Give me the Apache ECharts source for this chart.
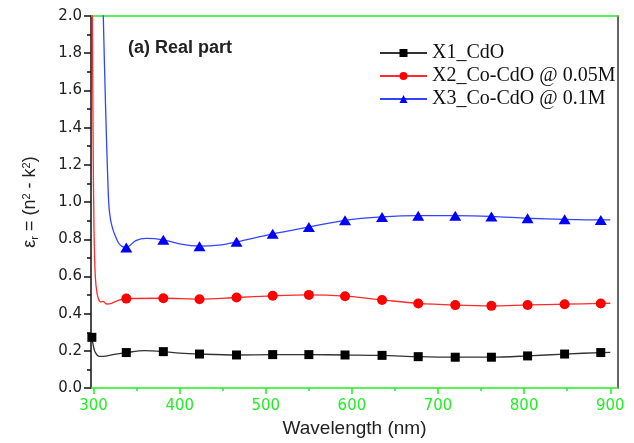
<!DOCTYPE html>
<html>
<head>
<meta charset="utf-8">
<script src="https://cdn.jsdelivr.net/npm/echarts@6/dist/echarts.min.js"></script>
<style>
  html, body { margin: 0; padding: 0; background: #fff; }
  #chart { width: 634px; height: 443px; }
</style>
</head>
<body>
<div id="chart"></div>
<script>
// wavelength (nm) and eps_r values
var x1Wave = [298, 301, 304, 307, 314.5, 326, 338, 359, 381, 400, 423, 466, 508, 550, 592, 635, 677, 720, 762, 804, 847, 889, 900];
var x1Vals = [0.273, 0.203, 0.178, 0.170, 0.172, 0.183, 0.191, 0.201, 0.196, 0.188, 0.183, 0.178, 0.180, 0.180, 0.178, 0.176, 0.169, 0.166, 0.166, 0.173, 0.183, 0.191, 0.192];

var x2Wave = [298, 299.5, 300.5, 302, 304, 306.5, 309, 311, 315, 321, 328, 338, 381, 423, 466, 508, 550, 592, 635, 677, 720, 762, 804, 847, 889, 900];
var x2Vals = [2.5, 1.3, 0.85, 0.6, 0.51, 0.47, 0.463, 0.466, 0.452, 0.456, 0.47, 0.481, 0.483, 0.478, 0.487, 0.496, 0.501, 0.494, 0.474, 0.455, 0.446, 0.442, 0.447, 0.451, 0.455, 0.456];

var x3Wave = [311, 314, 317.5, 319.5, 322, 325, 329, 333, 338, 349, 361, 381, 400, 423, 445, 466, 508, 550, 592, 635, 677, 720, 762, 804, 847, 889, 900];
var x3Vals = [2.05, 1.5, 1.0, 0.91, 0.86, 0.82, 0.78, 0.762, 0.756, 0.793, 0.805, 0.797, 0.775, 0.763, 0.768, 0.786, 0.829, 0.866, 0.902, 0.920, 0.927, 0.927, 0.923, 0.913, 0.907, 0.904, 0.904];

var markerWave = [338, 381, 423, 466, 508, 550, 592, 635, 677, 720, 762, 804, 847, 889];
var x1ExtraMarker = [298];

var seriesNames = ['X1_CdO', 'X2_Co-CdO @ 0.05M', 'X3_Co-CdO @ 0.1M'];
var xMajorTicks = [300, 400, 500, 600, 700, 800, 900];
var xMinorTicks = [350, 450, 550, 650, 750, 850];

function buildData(waves, vals, marks) {
  return waves.map(function (w, i) {
    var item = { value: [w, vals[i]] };
    if (marks.indexOf(w) < 0) item.symbol = 'none';
    return item;
  });
}

var chart = echarts.init(document.getElementById('chart'));
var green = '#22ee22';

var option = {
  animation: false,
  backgroundColor: '#fff',
  title: {
    text: '(a) Real part',
    left: 128,
    top: 39,
    padding: 0,
    textStyle: { fontFamily: 'Liberation Sans', fontSize: 18, fontWeight: 'bold', color: '#222' }
  },
  legend: {
    orient: 'vertical',
    left: 379,
    top: 43,
    itemWidth: 47,
    itemHeight: 10,
    itemGap: 3,
    padding: 0,
    textStyle: { fontFamily: 'Liberation Serif', fontSize: 20, color: '#111', lineHeight: 18 },
    data: seriesNames
  },
  grid: { left: 91, right: 16, top: 16, bottom: 52 },
  xAxis: [
    {
      type: 'value', min: 297, max: 909, position: 'bottom',
      name: 'Wavelength (nm)', nameLocation: 'middle', nameGap: 26,
      nameTextStyle: { fontFamily: 'Liberation Sans', fontSize: 19, color: '#222' },
      axisLine: { lineStyle: { color: green, width: 1.5 } },
      axisTick: { customValues: xMajorTicks, length: 6, lineStyle: { color: green, width: 1.5 } },
      axisLabel: { customValues: xMajorTicks, margin: 11, color: green, fontFamily: 'DejaVu Sans', fontSize: 15 },
      splitLine: { show: false }
    },
    {
      type: 'value', min: 297, max: 909, position: 'bottom',
      axisLine: { show: false },
      axisTick: { customValues: xMinorTicks, length: 3, lineStyle: { color: green, width: 1.5 } },
      axisLabel: { show: false },
      splitLine: { show: false }
    },
    {
      type: 'value', min: 297, max: 909, position: 'top',
      axisLine: { lineStyle: { color: green, width: 1.5 } },
      axisTick: { show: false }, axisLabel: { show: false }, splitLine: { show: false }
    }
  ],
  yAxis: [
    {
      type: 'value', min: 0, max: 2, interval: 0.2,
      name: '\u03b5{sub|r} = (n{sup|2} - k{sup|2})',
      nameLocation: 'middle', nameGap: 51,
      nameTextStyle: {
        fontFamily: 'Liberation Sans', fontSize: 18, color: '#222',
        rich: {
          sub: { fontSize: 11, verticalAlign: 'bottom', padding: [8, 0, 0, 0] },
          sup: { fontSize: 11, verticalAlign: 'top', padding: [0, 0, 8, 0] }
        }
      },
      axisLine: { lineStyle: { color: '#111', width: 1.5 } },
      axisTick: { length: 7, lineStyle: { color: '#111', width: 1.5 } },
      minorTick: { show: true, splitNumber: 2, length: 4, lineStyle: { color: '#111', width: 1.5 } },
      axisLabel: {
        margin: 9, color: '#222', fontFamily: 'DejaVu Sans', fontSize: 15,
        formatter: function (v) { return v.toFixed(1); }
      },
      splitLine: { show: false }
    },
    {
      type: 'value', min: 0, max: 2, position: 'right',
      axisLine: { show: true, lineStyle: { color: '#333', width: 1.5 } },
      axisTick: { show: false }, axisLabel: { show: false }, splitLine: { show: false }
    }
  ],
  series: [
    {
      name: seriesNames[0], type: 'line', smooth: 0.3,
      symbol: 'rect', symbolSize: 9,
      data: buildData(x1Wave, x1Vals, markerWave.concat(x1ExtraMarker)),
      lineStyle: { color: '#333', width: 1.3 },
      itemStyle: { color: '#000' },
      z: 3
    },
    {
      name: seriesNames[1], type: 'line', smooth: 0.3,
      symbol: 'circle', symbolSize: 10,
      data: buildData(x2Wave, x2Vals, markerWave),
      lineStyle: { color: '#ff2a2a', width: 1.3 },
      itemStyle: { color: '#ff0000' },
      z: 3
    },
    {
      name: seriesNames[2], type: 'line', smooth: 0.3,
      symbol: 'triangle', symbolSize: [12, 10],
      data: buildData(x3Wave, x3Vals, markerWave),
      lineStyle: { color: '#3344ff', width: 1.3 },
      itemStyle: { color: '#0000ff' },
      z: 3
    }
  ]
};

chart.setOption(option);
</script>
</body>
</html>
